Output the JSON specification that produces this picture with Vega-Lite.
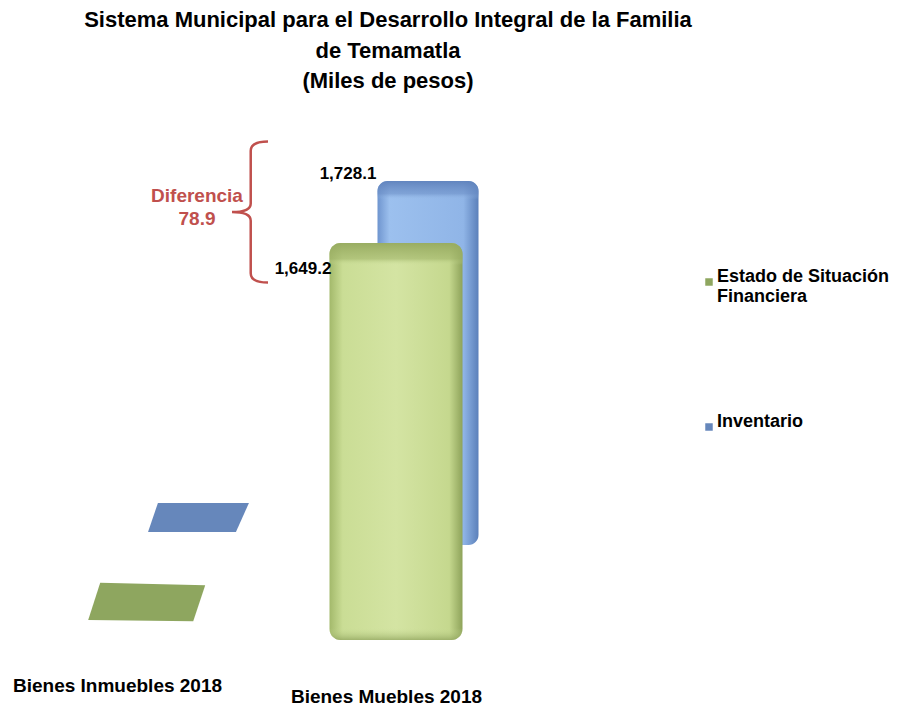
{
  "$schema": "https://vega.github.io/schema/vega-lite/v6.json",
  "autosize": "none",
  "width": 776,
  "height": 540,
  "padding": {"left": 0, "top": 100, "right": 129, "bottom": 68},
  "background": "white",
  "config": {"view": {"stroke": null}, "font": "Liberation Sans"},
  "title": {
    "text": ["Sistema Municipal  para el Desarrollo Integral de la Familia", "de Temamatla", "(Miles de pesos)"],
    "anchor": "middle",
    "font": "Liberation Sans",
    "fontSize": 22,
    "fontWeight": "bold",
    "color": "#000000",
    "lineHeight": 30.5,
    "offset": 7
  },
  "datasets": {
    "valores": [
      {"concepto": "Bienes Inmuebles 2018", "serie": "Estado de Situación Financiera", "valor": 0},
      {"concepto": "Bienes Muebles 2018", "serie": "Estado de Situación Financiera", "valor": 1649.2},
      {"concepto": "Bienes Inmuebles 2018", "serie": "Inventario", "valor": 0},
      {"concepto": "Bienes Muebles 2018", "serie": "Inventario", "valor": 1728.1}
    ],
    "diferencia": [
      {"concepto": "Bienes Muebles 2018", "inventario": 1728.1, "estado": 1649.2, "diferencia": 78.9}
    ]
  },
  "data": {"name": "valores"},
  "layer": [
    {
      "encoding": {
        "x": {"field": "concepto", "type": "nominal", "scale": {"type": "point", "domain": ["Bienes Inmuebles 2018", "Bienes Muebles 2018"], "range": [199, 428], "padding": 0}, "axis": null},
        "y": {"field": "valor", "type": "quantitative", "scale": {"domain": [-451, 2112.6], "nice": false, "zero": false}, "axis": null}
      },
      "layer": [
        {
          "transform": [{"filter": "datum.serie == 'Inventario' && datum.valor > 0"}],
          "mark": {"type": "bar", "width": 101, "cornerRadius": 10,
            "color": {"gradient": "linear", "x1": 0, "x2": 1, "y1": 0, "y2": 0,
              "stops": [{"offset": 0, "color": "#6f95cf"}, {"offset": 0.12, "color": "#9cc0ee"}, {"offset": 0.85, "color": "#90b5e7"}, {"offset": 1, "color": "#5b80ba"}]}},
          "encoding": {"y2": {"datum": 0}}
        },
        {
          "transform": [{"filter": "datum.serie == 'Inventario' && datum.valor > 0"}],
          "mark": {"type": "bar", "width": 101, "cornerRadius": 10,
            "color": {"gradient": "linear", "x1": 0, "x2": 0, "y1": 0, "y2": 1,
              "stops": [{"offset": 0, "color": "rgba(95,130,188,0.95)"}, {"offset": 0.035, "color": "rgba(110,145,200,0.6)"}, {"offset": 0.05, "color": "rgba(150,185,230,0)"}, {"offset": 1, "color": "rgba(150,185,230,0)"}]}},
          "encoding": {"y2": {"datum": 0}}
        },
        {
          "transform": [{"filter": "datum.serie == 'Inventario' && datum.valor == 0"}],
          "mark": {"type": "point", "filled": true, "opacity": 1, "size": 10816, "yOffset": -28,
            "shape": "M-0.79,-0.27 L0.96,-0.27 L0.71,0.29 L-0.98,0.29 Z"},
          "encoding": {
            "color": {"field": "serie", "type": "nominal",
              "scale": {"domain": ["Estado de Situación Financiera", "Inventario"], "range": ["#8ea65f", "#6687bb"]},
              "legend": {"title": null, "orient": "none", "legendX": 700, "legendY": 173, "symbolType": "square", "symbolSize": 56,
                "labelFont": "Liberation Sans", "labelFontSize": 18, "labelFontWeight": "bold", "labelColor": "#000000", "labelLimit": 400,
                "labelBaseline": "alphabetic", "labelOffset": -1, "rowPadding": 107, "padding": 0,
                "labelExpr": "datum.label == 'Estado de Situación Financiera' ? ['Estado de Situación', 'Financiera'] : datum.label"}}
          }
        },
        {
          "transform": [{"filter": "datum.serie == 'Inventario' && datum.valor > 0"}],
          "mark": {"type": "text", "font": "Liberation Sans", "fontSize": 17, "fontWeight": "bold", "color": "#000000", "dx": -80, "dy": -7, "align": "center", "baseline": "middle"},
          "encoding": {"text": {"field": "valor", "type": "quantitative", "format": ",.1f"}}
        }
      ]
    },
    {
      "encoding": {
        "x": {"field": "concepto", "type": "nominal", "scale": {"type": "point", "domain": ["Bienes Inmuebles 2018", "Bienes Muebles 2018"], "range": [147, 396], "padding": 0},
          "axis": {"title": null, "domain": false, "ticks": false, "labelFont": "Liberation Sans", "labelFontWeight": "bold", "labelFontSize": 19, "labelColor": "#000000",
            "labelBaseline": "top", "labelLimit": 400, "labelAngle": 0,
            "labelPadding": {"condition": {"test": "datum.value == 'Bienes Muebles 2018'", "value": 47}, "value": 36},
            "labelOffset": {"condition": {"test": "datum.value == 'Bienes Muebles 2018'", "value": -10}, "value": -30}}},
        "y": {"field": "valor", "type": "quantitative", "scale": {"domain": [0, 2243.3], "nice": false, "zero": false}, "axis": null}
      },
      "layer": [
        {
          "transform": [{"filter": "datum.serie == 'Estado de Situación Financiera' && datum.valor > 0"}],
          "mark": {"type": "bar", "width": 133, "cornerRadius": 11,
            "color": {"gradient": "linear", "x1": 0, "x2": 1, "y1": 0, "y2": 0,
              "stops": [{"offset": 0, "color": "#a3b96b"}, {"offset": 0.1, "color": "#cadd95"}, {"offset": 0.5, "color": "#d4e4a3"}, {"offset": 0.9, "color": "#c5d88e"}, {"offset": 1, "color": "#8ea35a"}]}},
          "encoding": {"y2": {"datum": 0}}
        },
        {
          "transform": [{"filter": "datum.serie == 'Estado de Situación Financiera' && datum.valor > 0"}],
          "mark": {"type": "bar", "width": 133, "cornerRadius": 11,
            "color": {"gradient": "linear", "x1": 0, "x2": 0, "y1": 0, "y2": 1,
              "stops": [{"offset": 0, "color": "rgba(150,170,95,0.95)"}, {"offset": 0.04, "color": "rgba(160,180,105,0.6)"}, {"offset": 0.055, "color": "rgba(200,220,150,0)"}, {"offset": 0.97, "color": "rgba(200,220,150,0)"}, {"offset": 1, "color": "rgba(140,160,90,0.7)"}]}},
          "encoding": {"y2": {"datum": 0}}
        },
        {
          "transform": [{"filter": "datum.serie == 'Estado de Situación Financiera' && datum.valor == 0"}],
          "mark": {"type": "point", "filled": true, "opacity": 1, "size": 14400, "yOffset": -38,
            "shape": "M-0.78,-0.32 L0.97,-0.28 L0.77,0.32 L-0.98,0.30 Z"},
          "encoding": {
            "color": {"field": "serie", "type": "nominal",
              "scale": {"domain": ["Estado de Situación Financiera", "Inventario"], "range": ["#8ea65f", "#6687bb"]}}
          }
        },
        {
          "transform": [{"filter": "datum.serie == 'Estado de Situación Financiera' && datum.valor > 0"}],
          "mark": {"type": "text", "font": "Liberation Sans", "fontSize": 17, "fontWeight": "bold", "color": "#000000", "dx": -93, "dy": 26, "align": "center", "baseline": "middle"},
          "encoding": {"text": {"field": "valor", "type": "quantitative", "format": ",.1f"}}
        }
      ]
    },
    {
      "data": {"name": "diferencia"},
      "encoding": {
        "x": {"field": "concepto", "type": "nominal", "scale": {"type": "point", "domain": ["Bienes Inmuebles 2018", "Bienes Muebles 2018"], "range": [147, 396], "padding": 0}, "axis": null},
        "y": {"field": "inventario", "type": "quantitative", "scale": {"domain": [0, 2243.3], "nice": false, "zero": false}, "axis": null}
      },
      "layer": [
        {
          "mark": {"type": "point", "filled": false, "stroke": "#c0504d", "strokeWidth": 2.5, "opacity": 1, "size": 20736, "xOffset": -146, "yOffset": -12,
            "shape": "M0.25,-0.98 Q0.01,-0.98 0.01,-0.85 L0.01,-0.12 Q0.01,0 -0.25,0 Q0.01,0 0.01,0.12 L0.01,0.85 Q0.01,0.98 0.25,0.98"}
        },
        {
          "mark": {"type": "text", "font": "Liberation Sans", "fontSize": 19, "fontWeight": "bold", "color": "#c0504d", "dx": -199, "dy": -28, "align": "center", "baseline": "middle", "text": "Diferencia"}
        },
        {
          "mark": {"type": "text", "font": "Liberation Sans", "fontSize": 19, "fontWeight": "bold", "color": "#c0504d", "dx": -199, "dy": -5, "align": "center", "baseline": "middle"},
          "encoding": {"text": {"field": "diferencia", "type": "quantitative", "format": ".1f"}}
        }
      ]
    }
  ],
  "resolve": {"scale": {"x": "independent", "y": "independent"}}
}
